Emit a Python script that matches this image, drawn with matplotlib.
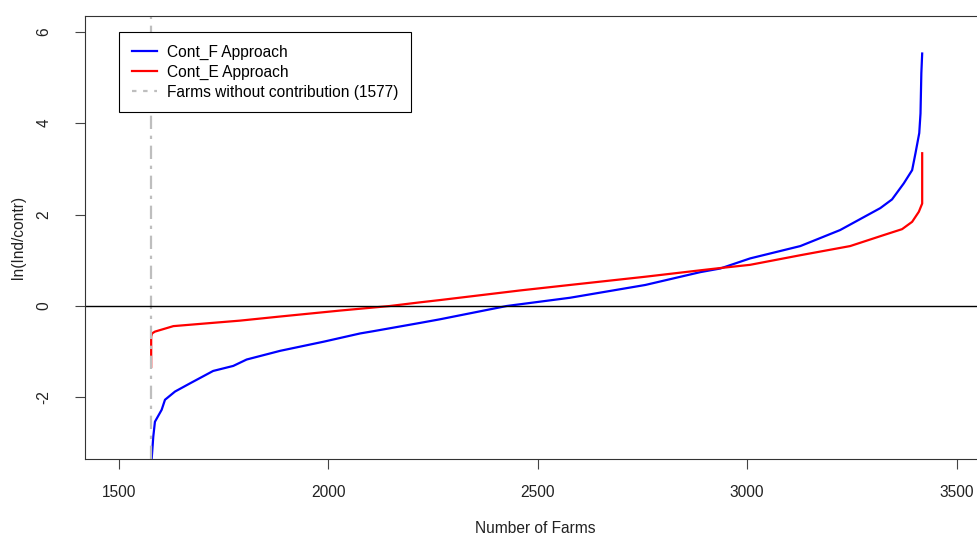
import matplotlib
matplotlib.use("Agg")
import matplotlib.pyplot as plt
from matplotlib.lines import Line2D

plt.rcParams["font.family"] = ["Liberation Sans", "DejaVu Sans"]
plt.rcParams["axes.unicode_minus"] = False

# values
n_zero = 1577

blue_x = [1577, 1578, 1582, 1586, 1602, 1610, 1634, 1670, 1725, 1773, 1805, 1885,
          1989, 2076, 2108, 2219, 2267, 2426, 2577, 2757, 2888, 2936, 3007, 3127,
          3222, 3302, 3318, 3346, 3374, 3394, 3402, 3411, 3414, 3416, 3418]
blue_y = [-3.6, -3.37, -2.86, -2.53, -2.27, -2.05, -1.87, -1.69, -1.42, -1.31, -1.17, -0.98,
          -0.78, -0.60, -0.55, -0.37, -0.29, 0.0, 0.18, 0.46, 0.74, 0.82, 1.04, 1.31,
          1.66, 2.06, 2.14, 2.33, 2.68, 2.97, 3.34, 3.78, 4.21, 5.09, 5.52]

red_x = [1577, 1577, 1579, 1586, 1630, 1709, 1789, 1885, 2028, 2147, 2219, 2267,
         2458, 2577, 2757, 2888, 2936, 3007, 3127, 3246, 3326, 3370, 3394, 3410, 3418, 3418]
red_y = [-1.33, -0.67, -0.60, -0.56, -0.44, -0.38, -0.32, -0.23, -0.10, 0.0, 0.08, 0.13,
         0.34, 0.46, 0.64, 0.78, 0.83, 0.90, 1.11, 1.31, 1.55, 1.68, 1.84, 2.06, 2.24, 3.34]

labels = ["Cont_F Approach", "Cont_E Approach", "Farms without contribution (1577)"]
xticks = [1500, 2000, 2500, 3000, 3500]
yticks = [-2, 0, 2, 4, 6]

fs = 11.2

fig = plt.figure(figsize=(9.78, 5.36), dpi=100)
ax = fig.add_axes([85 / 978, 77 / 536, 900 / 978, 443 / 536])

ax.plot(blue_x, blue_y, color="#0000ff", lw=1.6)
ax.plot(red_x, red_y, color="#ff0000", lw=1.6)
ax.axvline(n_zero, color="#bebebe", lw=1.6, ls=(0, (6, 3, 1.5, 3)))
ax.axhline(0, color="black", lw=1)

ax.set_xlim(1419, 3568)
ax.set_ylim(-3.345, 6.34)
ax.set_xticks(xticks)
ax.set_yticks(yticks)
ax.tick_params(direction="out", length=7, width=0.8, color="#444444",
               labelsize=fs, labelcolor="#222222")
ax.tick_params(axis="x", pad=12)
ax.tick_params(axis="y", pad=17)
plt.setp(ax.get_yticklabels(), rotation=90, va="center")
for s in ax.spines.values():
    s.set_linewidth(0.8)
    s.set_color("#333333")

ax.set_xlabel("Number of Farms", fontsize=fs, color="#222222", labelpad=15)
ax.set_ylabel("ln(Ind/contr)", fontsize=fs, color="#222222", labelpad=7.5)

handles = [Line2D([], [], color="#0000ff", lw=1.6),
           Line2D([], [], color="#ff0000", lw=1.6),
           Line2D([], [], color="#bebebe", lw=1.6, ls=(0, (2, 3)))]
leg = ax.legend(handles, labels, loc="upper left", bbox_to_anchor=(0.038, 0.964),
                fontsize=fs, fancybox=False, framealpha=1, edgecolor="black",
                handlelength=1.6, handletextpad=0.7, labelspacing=0.33,
                borderpad=0.8, borderaxespad=0)
leg.get_frame().set_linewidth(0.8)

fig.savefig("out.png", dpi=100)
